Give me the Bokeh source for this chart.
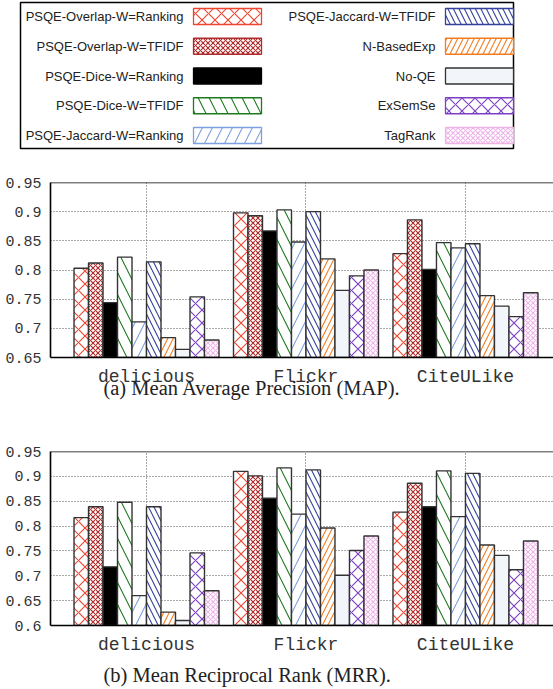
from bokeh.plotting import figure
from bokeh.models import Range1d, FixedTicker, NumeralTickFormatter, Span
from bokeh.embed import file_html
from bokeh.resources import INLINE
from bokeh.core.properties import value

# ---------------- data ----------------
datasets = ["delicious", "Flickr", "CiteULike"]
methods = ["PSQE-Overlap-W=Ranking", "PSQE-Overlap-W=TFIDF", "PSQE-Dice-W=Ranking",
           "PSQE-Dice-W=TFIDF", "PSQE-Jaccard-W=Ranking", "PSQE-Jaccard-W=TFIDF",
           "N-BasedExp", "No-QE", "ExSemSe", "TagRank"]

map_delicious = [0.803, 0.812, 0.744, 0.822, 0.711, 0.814, 0.684, 0.664, 0.754, 0.680]
map_flickr    = [0.898, 0.893, 0.867, 0.903, 0.848, 0.900, 0.819, 0.765, 0.790, 0.800]
map_citeulike = [0.828, 0.886, 0.801, 0.847, 0.838, 0.845, 0.756, 0.738, 0.720, 0.761]

mrr_delicious = [0.817, 0.839, 0.718, 0.848, 0.660, 0.839, 0.627, 0.610, 0.746, 0.670]
mrr_flickr    = [0.910, 0.901, 0.856, 0.917, 0.824, 0.913, 0.796, 0.701, 0.751, 0.780]
mrr_citeulike = [0.828, 0.886, 0.839, 0.911, 0.819, 0.906, 0.762, 0.741, 0.712, 0.770]

map_ticks = [0.65, 0.7, 0.75, 0.8, 0.85, 0.9, 0.95]
mrr_ticks = [0.6, 0.65, 0.7, 0.75, 0.8, 0.85, 0.9, 0.95]

captions = ["(a) Mean Average Precision (MAP).", "(b) Mean Reciprocal Rank (MRR)."]

# ---------------- styles ----------------
colors = ["#ef4530", "#b02c2c", "#000000", "#1d7a1d", "#7ea0df",
          "#33409c", "#f47c20", "#555555", "#7b3fc4", "#eeb4e8"]
fills = ["white", "white", "#000000", "white", "white",
         "white", "white", "#f2f6fa", "white", "white"]
patterns = ["x", "x", " ", "\\", "/", "\\", "/", " ", "x", "x"]
scales = [13, 5, 12, 22, 20, 11, 11, 12, 13, 5]

NB = len(methods)
GAP = 1
X_START, X_END = -0.602, 2.552
CAPTION_X = -0.27
FONT_MONO = "Liberation Mono"
FONT_SERIF = "Liberation Serif"


def make_chart(series, ticks, top_border, frame_h):
    ymin, ymax = ticks[0], ticks[-1]
    p = figure(frame_width=503, frame_height=frame_h,
               x_range=Range1d(X_START, X_END), y_range=Range1d(ymin, ymax),
               output_backend="svg", toolbar_location=None,
               min_border_left=50, min_border_right=0, min_border_top=top_border,
               min_border_bottom=9)
    p.outline_line_color = None
    xs_idx = list(range(len(datasets)))
    for j, m in enumerate(methods):
        xs = [g + (j - (NB - 1) / 2) / (NB + GAP) for g in xs_idx]
        tops = [s[j] for s in series]
        p.vbar(x=xs, top=tops, bottom=ymin, width=1 / (NB + GAP),
               fill_color=fills[j], line_color="#333333", line_width=1.4,
               hatch_pattern=patterns[j], hatch_color=colors[j],
               hatch_scale=scales[j], hatch_weight=1.1)
    # axes (x labels are drawn in the strip below, sharing the same x scale)
    p.xaxis.ticker = FixedTicker(ticks=[])
    p.yaxis.ticker = FixedTicker(ticks=ticks)
    p.yaxis.formatter = NumeralTickFormatter(format="0.[00]")
    p.yaxis.major_label_text_font = FONT_MONO
    p.yaxis.major_label_text_font_size = "15px"
    p.yaxis.major_label_text_color = "#333333"
    p.yaxis.major_label_standoff = 9
    for ax in (p.xaxis, p.yaxis):
        ax.major_tick_in = 0
        ax.major_tick_out = 0
        ax.minor_tick_in = 0
        ax.minor_tick_out = 0
        ax.axis_line_color = "black"
        ax.axis_line_width = 1.6
    # grid
    p.xgrid.ticker = FixedTicker(ticks=xs_idx)
    p.ygrid.ticker = FixedTicker(ticks=ticks)
    for g in (p.xgrid, p.ygrid):
        g.grid_line_color = "#555555"
        g.grid_line_dash = "1 2"
        g.grid_line_width = 1
    p.add_layout(Span(location=ymax, dimension="width", line_color="black", line_width=1.6))
    return p


def make_strip(chart, caption, height, label_mid, cap_mid):
    s = figure(frame_width=503, frame_height=height,
               x_range=chart.x_range, y_range=Range1d(height, 0),
               output_backend="svg", toolbar_location=None,
               min_border_left=50, min_border_right=0, min_border_top=0,
               min_border_bottom=0, x_axis_location=None, y_axis_location=None)
    s.outline_line_color = None
    s.xgrid.visible = False
    s.ygrid.visible = False
    s.text(x=list(range(len(datasets))), y=[label_mid] * len(datasets), text=datasets,
           text_align="center", text_baseline="middle",
           text_font=value(FONT_MONO), text_font_size="18px", text_color="#333333")
    s.text(x=[CAPTION_X], y=[cap_mid], text=[caption], text_align="left",
           text_baseline="middle", text_font=value(FONT_SERIF),
           text_font_size="20.5px", text_color="#222222")
    return s


p1 = make_chart([map_delicious, map_flickr, map_citeulike], map_ticks, 22, 175)
s1 = make_strip(p1, captions[0], 38, 10.5, 21.6)
p2 = make_chart([mrr_delicious, mrr_flickr, mrr_citeulike], mrr_ticks, 47, 174)
s2 = make_strip(p2, captions[1], 53, 10.5, 40.1)

# ---------------- legend ----------------
leg = figure(width=553, height=160, x_range=Range1d(0, 553), y_range=Range1d(160, 0),
             output_backend="svg", toolbar_location=None, min_border=0,
             min_border_left=0, min_border_right=0, min_border_top=0, min_border_bottom=0,
             x_axis_location=None, y_axis_location=None)
leg.xgrid.visible = False
leg.ygrid.visible = False
leg.outline_line_color = None
leg.quad(left=[20], right=[513], top=[2], bottom=[148], fill_color=None,
         line_color="black", line_width=1.5)
for j, m in enumerate(methods):
    col, row = divmod(j, 5)
    lab_x = 183 + col * 252
    yc = 16 + row * 29.75
    leg.quad(left=[lab_x + 10], right=[lab_x + 78], top=[yc - 8], bottom=[yc + 8],
             fill_color=fills[j], line_color=colors[j] if j != 7 else "#333333",
             line_width=1.3, hatch_pattern=patterns[j], hatch_color=colors[j],
             hatch_scale=scales[j], hatch_weight=1.1)
    leg.text(x=[lab_x], y=[yc], text=[m], text_align="right", text_baseline="middle",
             text_font=value("Liberation Sans"), text_font_size="13px",
             text_color="#222222")

open("out.html", "w").write(file_html([leg, p1, s1, p2, s2], INLINE))
